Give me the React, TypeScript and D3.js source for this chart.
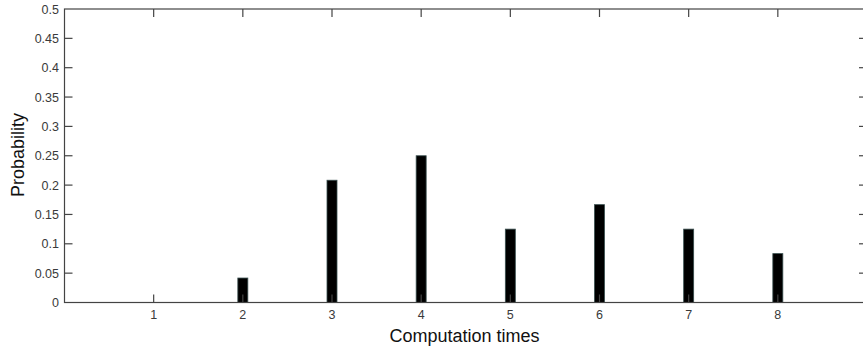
import React, { useEffect, useRef } from "react";
import * as d3 from "d3";

const times = [1, 2, 3, 4, 5, 6, 7, 8];
const probability = [0, 0.0417, 0.2083, 0.25, 0.125, 0.1667, 0.125, 0.0833];
const yTicks = [0, 0.05, 0.1, 0.15, 0.2, 0.25, 0.3, 0.35, 0.4, 0.45, 0.5];

const W = 863;
const H = 351;

const App: React.FC = () => {
  const svgRef = useRef<SVGSVGElement | null>(null);

  useEffect(() => {
    if (!svgRef.current) return;
    const svg = d3.select(svgRef.current);
    svg.selectAll("*").remove();

    const left = 64.5;
    const right = 867;
    const top = 9;
    const bottom = 302.5;

    const x = d3.scaleLinear().domain([0, 9]).range([left, right]);
    const y = d3.scaleLinear().domain([0, 0.5]).range([bottom, top]);

    const axisColor = "#444";
    const labelColor = "#3a3a3a";
    const font = "Arial, 'Liberation Sans', sans-serif";
    const tick = 8;

    // bars
    svg
      .append("g")
      .selectAll("rect")
      .data(times.map((t, i) => ({ t, p: probability[i] })).filter((d) => d.p > 0))
      .enter()
      .append("rect")
      .attr("x", (d) => x(d.t) - 5)
      .attr("width", 10)
      .attr("y", (d) => y(d.p))
      .attr("height", (d) => y(0) - y(d.p))
      .attr("fill", "#000")
      .attr("stroke", "#3a5050")
      .attr("stroke-width", 0.8);

    // box
    svg
      .append("rect")
      .attr("x", left)
      .attr("y", top)
      .attr("width", right - left)
      .attr("height", bottom - top)
      .attr("fill", "none")
      .attr("stroke", axisColor)
      .attr("stroke-width", 1.2);

    // y ticks (left and right, inward)
    const yg = svg.append("g");
    yTicks.forEach((v) => {
      const yy = y(v);
      if (v > 0 && v < 0.5) {
        yg.append("line").attr("x1", left).attr("x2", left + tick).attr("y1", yy).attr("y2", yy)
          .attr("stroke", axisColor).attr("stroke-width", 1.2);
        yg.append("line").attr("x1", right).attr("x2", right - tick).attr("y1", yy).attr("y2", yy)
          .attr("stroke", axisColor).attr("stroke-width", 1.2);
      }
      yg.append("text")
        .attr("x", left - 5.5)
        .attr("y", yy)
        .attr("dy", "0.36em")
        .attr("text-anchor", "end")
        .attr("font-family", font)
        .attr("font-size", 12.5)
        .attr("fill", labelColor)
        .text(String(v));
    });

    // x ticks (bottom and top, inward)
    const xg = svg.append("g");
    times.forEach((t) => {
      const xx = x(t);
      xg.append("line").attr("x1", xx).attr("x2", xx).attr("y1", bottom).attr("y2", bottom - tick)
        .attr("stroke", axisColor).attr("stroke-width", 1.2);
      xg.append("line").attr("x1", xx).attr("x2", xx).attr("y1", top).attr("y2", top + tick)
        .attr("stroke", axisColor).attr("stroke-width", 1.2);
      xg.append("text")
        .attr("x", xx)
        .attr("y", bottom + 16.5)
        .attr("text-anchor", "middle")
        .attr("font-family", font)
        .attr("font-size", 12.5)
        .attr("fill", labelColor)
        .text(String(t));
    });

    // axis labels
    svg
      .append("text")
      .attr("x", 464.5)
      .attr("y", 342)
      .attr("text-anchor", "middle")
      .attr("font-family", font)
      .attr("font-size", 18)
      .attr("fill", "#111")
      .text("Computation times");

    svg
      .append("text")
      .attr("transform", `translate(24,155) rotate(-90)`)
      .attr("text-anchor", "middle")
      .attr("font-family", font)
      .attr("font-size", 18)
      .attr("fill", "#111")
      .text("Probability");
  }, []);

  return (
    <svg
      ref={svgRef}
      width={W}
      height={H}
      style={{ position: "absolute", left: 0, top: 0, background: "#fff" }}
    />
  );
};

export default App;
